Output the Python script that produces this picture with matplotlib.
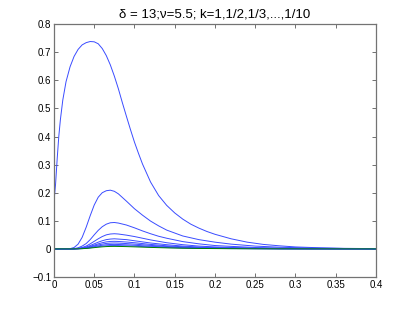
import matplotlib
matplotlib.use('Agg')
import matplotlib.pyplot as plt

plt.rcParams['font.family'] = ['Liberation Sans', 'DejaVu Sans']

# k = 1 curve
x_k1 = [0, 0.002, 0.004, 0.006, 0.008, 0.011, 0.015, 0.02, 0.025, 0.03,
        0.035, 0.04, 0.045, 0.05, 0.055, 0.06, 0.065, 0.07, 0.075, 0.08,
        0.085, 0.09, 0.095, 0.10, 0.105, 0.11, 0.12, 0.13, 0.14, 0.15,
        0.16, 0.17, 0.18, 0.19, 0.20, 0.22, 0.24, 0.26, 0.28, 0.30,
        0.33, 0.36, 0.40]
y_k1 = [0.168, 0.23, 0.32, 0.40, 0.46, 0.53, 0.595, 0.648, 0.685, 0.71,
        0.726, 0.734, 0.738, 0.737, 0.73, 0.713, 0.688, 0.655, 0.615, 0.57,
        0.52, 0.472, 0.425, 0.38, 0.34, 0.302, 0.238, 0.19, 0.155, 0.128,
        0.106, 0.088, 0.074, 0.062, 0.052, 0.036, 0.024, 0.016, 0.011, 0.007,
        0.004, 0.002, 0.001]

# k = 1/2 ... 1/10 share one x grid
x_k = [0, 0.015, 0.02, 0.025, 0.03, 0.035, 0.04, 0.045, 0.05, 0.055,
       0.06, 0.065, 0.07, 0.075, 0.08, 0.09, 0.10, 0.11, 0.12, 0.13,
       0.14, 0.16, 0.18, 0.20, 0.22, 0.25, 0.28, 0.32, 0.36, 0.40]
y_k2 = [0, 0, 0.0008, 0.005, 0.017, 0.041, 0.077, 0.118, 0.156, 0.184,
        0.2, 0.207, 0.209, 0.205, 0.196, 0.17, 0.143, 0.12, 0.099, 0.082,
        0.067, 0.046, 0.033, 0.024, 0.017, 0.010, 0.006, 0.003, 0.0015, 0.0008]
y_k3 = [0, 0, 0, 0.001, 0.004, 0.01, 0.019, 0.033, 0.05, 0.066,
        0.079, 0.088, 0.093, 0.094, 0.092, 0.085, 0.075, 0.064, 0.054, 0.045,
        0.038, 0.026, 0.018, 0.012, 0.009, 0.005, 0.003, 0.0015, 0.0008, 0.0004]
y_k4 = [0, 0, 0, 0.0005, 0.002, 0.005, 0.01, 0.018, 0.027, 0.036,
        0.044, 0.05, 0.053, 0.054, 0.053, 0.049, 0.044, 0.038, 0.032, 0.027,
        0.022, 0.015, 0.010, 0.007, 0.005, 0.003, 0.0017, 0.0009, 0.0005, 0.0002]
y_k5 = [0, 0, 0, 0.0003, 0.0013, 0.0033, 0.0067, 0.012, 0.018, 0.024,
        0.029, 0.033, 0.035, 0.036, 0.035, 0.033, 0.029, 0.025, 0.021, 0.018,
        0.015, 0.010, 0.0067, 0.0047, 0.0033, 0.002, 0.0011, 0.0006, 0.0003, 0.0001]
y_k6 = [0, 0, 0, 0.0002, 0.001, 0.0025, 0.005, 0.009, 0.0135, 0.018,
        0.022, 0.025, 0.0265, 0.027, 0.0265, 0.0245, 0.022, 0.019, 0.016, 0.0135,
        0.011, 0.0075, 0.005, 0.0035, 0.0025, 0.0015, 0.0008, 0.0004, 0.0002, 0.0001]
y_k7 = [0, 0, 0, 0.0002, 0.0008, 0.002, 0.004, 0.007, 0.0105, 0.014,
        0.017, 0.0195, 0.0206, 0.021, 0.0206, 0.019, 0.017, 0.0148, 0.0125, 0.0105,
        0.0086, 0.0058, 0.0039, 0.0027, 0.0019, 0.0012, 0.0007, 0.0004, 0.0002, 0.0001]
y_k8 = [0, 0, 0, 0.0001, 0.0006, 0.0015, 0.003, 0.0053, 0.008, 0.0107,
        0.013, 0.0148, 0.0157, 0.016, 0.0157, 0.0145, 0.013, 0.0112, 0.0095, 0.008,
        0.0065, 0.0044, 0.003, 0.0021, 0.0015, 0.0009, 0.0005, 0.0003, 0.0001, 0.0001]
y_k9 = [0, 0, 0, 0.0001, 0.0004, 0.0011, 0.0022, 0.004, 0.006, 0.008,
        0.0098, 0.0111, 0.0118, 0.012, 0.0118, 0.0109, 0.0098, 0.0084, 0.0071, 0.006,
        0.0049, 0.0033, 0.0022, 0.0016, 0.0011, 0.0007, 0.0004, 0.0002, 0.0001, 0]
y_k10 = [0, 0, 0, 0.0001, 0.0003, 0.0008, 0.0017, 0.003, 0.0045, 0.006,
         0.0073, 0.0083, 0.0088, 0.009, 0.0088, 0.0082, 0.0073, 0.0063, 0.0053, 0.0045,
         0.0037, 0.0025, 0.0017, 0.0012, 0.0008, 0.0005, 0.0003, 0.0002, 0.0001, 0]

x_ticks = [0, 0.05, 0.1, 0.15, 0.2, 0.25, 0.3, 0.35, 0.4]
x_labels = ['0', '0.05', '0.1', '0.15', '0.2', '0.25', '0.3', '0.35', '0.4']
y_ticks = [-0.1, 0, 0.1, 0.2, 0.3, 0.4, 0.5, 0.6, 0.7, 0.8]
y_labels = ['\u22120.1', '0', '0.1', '0.2', '0.3', '0.4', '0.5', '0.6', '0.7', '0.8']

BLUE = '#3a4cff'
GREEN = '#008000'

fig = plt.figure(figsize=(4.15, 3.13), dpi=100)
ax = fig.add_axes([0.130, 0.115, 0.776, 0.808])

ax.plot(x_k1, y_k1, color=BLUE, linewidth=0.7)
for ys in [y_k2, y_k3, y_k4, y_k5, y_k6, y_k7, y_k8, y_k9]:
    ax.plot(x_k, ys, color=BLUE, linewidth=0.7)
ax.plot(x_k, y_k10, color=GREEN, linewidth=0.7)

ax.set_xlim(0, 0.4)
ax.set_ylim(-0.1, 0.8)
ax.set_xticks(x_ticks)
ax.set_xticklabels(x_labels)
ax.set_yticks(y_ticks)
ax.set_yticklabels(y_labels)
ax.tick_params(direction='in', top=True, right=True, length=3,
               width=0.6, color='0.35', labelsize=7, pad=2)
for sp in ax.spines.values():
    sp.set_color('0.45')
    sp.set_linewidth(0.9)

ax.set_title('\u03b4 = 13;\u03bd=5.5; k=1,1/2,1/3,...,1/10', fontsize=9.5, pad=5)

fig.savefig('out.png', dpi=100)
